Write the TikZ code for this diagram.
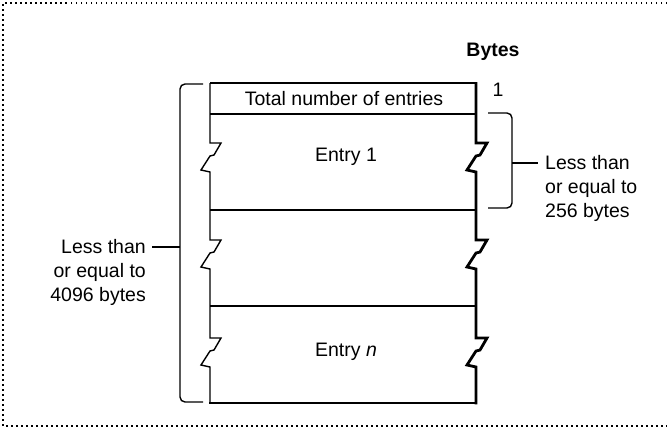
\documentclass[tikz,border=0pt]{standalone}
\usepackage{fontspec}
\setmainfont{Liberation Sans}
\begin{document}
\begin{tikzpicture}[x=1pt,y=-1pt,
  frame/.style={line width=1.5pt,dash pattern=on 1.5pt off 3.5pt},
  thinln/.style={line width=1.4pt},
  thickln/.style={line width=2.8pt},
  bracel/.style={line width=1.4pt,rounded corners=5pt},
  lbl/.style={inner sep=0pt,font=\fontsize{19.5}{24}\selectfont},
  zig/.style={insert path={-- ++(11,0) -- ++(-7,12) -- ++(-4,1) -- ++(-9,14) -- ++(9,2)}}]
\useasboundingbox (0,0) rectangle (667,437);
% dotted frame
\draw[frame] (667,3) -- (3,3) -- (3,426) -- (667,426);
% box
\draw[thinln] (210,83) -- (476,83);
\draw[thinln] (210,83) -- (210,143) [zig] -- (210,240) [zig] -- (210,338) [zig] -- (210,403);
\draw[thickln] (476,82) -- (476,143) [zig] -- (476,240) [zig] -- (476,338) [zig] -- (476,404.4);
\draw[thickln] (209.3,403) -- (477.4,403);
\draw[thinln] (210,114) -- (476,114);
\draw[thinln] (210,210) -- (476,210);
\draw[thinln] (210,306) -- (476,306);
% texts in box
\node[lbl] (total) at (344,99) {Total number of entries};
\node[lbl] (entry1) at (346,157) {Entry 1};
\node[lbl] (entryn) at (346,352) {Entry \textit{n}};
\node[lbl,font=\fontsize{19.5}{24}\selectfont\bfseries] (bytes) at (493,52) {Bytes};
\node[lbl] (one) at (498,90) {1};
% left brace
\draw[bracel] (203,84) -- (180,84) -- (180,402) -- (203,402);
\coordinate (ltick) at (180,247);
\node[lbl,align=right,anchor=north east] (ltext) at (146,239.5) {Less than\\or equal to\\4096 bytes};
\draw[thinln] (ltick) -- (152,247);
% right brace
\draw[bracel] (488,113) -- (512,113) -- (512,208) -- (488,208);
\coordinate (rtick) at (512,163);
\node[lbl,align=left,anchor=north west] (rtext) at (545,155.5) {Less than\\or equal to\\256 bytes};
\draw[thinln] (rtick) -- (538,163);
\end{tikzpicture}
\end{document}
